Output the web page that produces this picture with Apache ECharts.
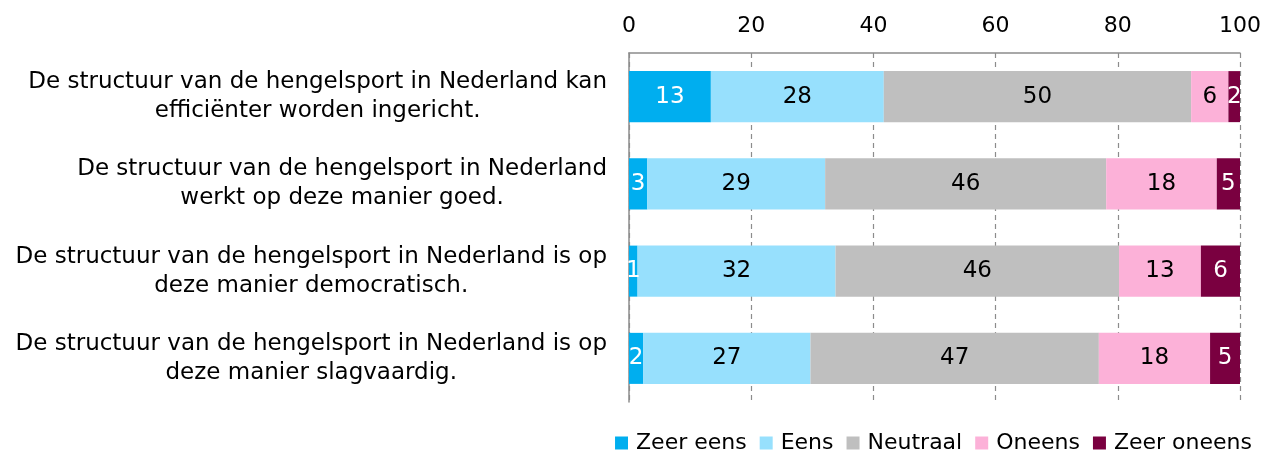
<!DOCTYPE html>
<html>
<head>
<meta charset="utf-8">
<script src="https://cdn.jsdelivr.net/npm/echarts@6/dist/echarts.min.js"></script>
<style>
html,body{margin:0;padding:0;background:#fff;}
#chart{width:1266px;height:452px;}
</style>
</head>
<body>
<div id="chart"></div>
<script>
var categories = [
  "De structuur van de hengelsport in Nederland kan\nefficiënter worden ingericht.",
  "De structuur van de hengelsport in Nederland\nwerkt op deze manier goed.",
  "De structuur van de hengelsport in Nederland is op\ndeze manier democratisch.",
  "De structuur van de hengelsport in Nederland is op\ndeze manier slagvaardig."
];
var seriesNames = ["Zeer eens", "Eens", "Neutraal", "Oneens", "Zeer oneens"];
var zeerEens   = [13.4, 3.0, 1.4, 2.3];
var eens       = [28.3, 29.1, 32.4, 27.4];
var neutraal   = [50.3, 46.0, 46.4, 47.2];
var oneens     = [6.1, 18.1, 13.4, 18.2];
var zeerOneens = [1.9, 4.5, 6.4, 4.9];
var xTicks = [0, 20, 40, 60, 80, 100];

var FONT = "'DejaVu Sans', sans-serif";
var colors = ["#00AEEF", "#97E0FD", "#BFBFBF", "#FCB1D8", "#7A0040"];
var labelColors = ["#fff", "#000", "#000", "#000", "#fff"];
var values = [zeerEens, eens, neutraal, oneens, zeerOneens];

var series = seriesNames.map(function (name, i) {
  return {
    name: name,
    type: "bar",
    stack: "total",
    barWidth: "58.5%",
    data: values[i],
    itemStyle: { color: colors[i] },
    label: {
      show: true,
      position: "inside",
      color: labelColors[i],
      fontFamily: FONT,
      fontSize: 23,
      formatter: function (p) { return Math.round(p.value); }
    }
  };
});

var chart = echarts.init(document.getElementById("chart"), null, { renderer: "canvas" });
chart.setOption({
  animation: false,
  backgroundColor: "#fff",
  color: colors,
  grid: { left: 629, right: 26, top: 53, bottom: 50 },
  legend: {
    data: seriesNames,
    right: 14,
    top: 432,
    padding: 0,
    itemWidth: 13,
    itemHeight: 13,
    itemGap: 13,
    icon: "rect",
    textStyle: { fontFamily: FONT, fontSize: 22, color: "#000", padding: [0, 0, 0, 3] }
  },
  xAxis: {
    type: "value",
    position: "top",
    min: xTicks[0],
    max: xTicks[xTicks.length - 1],
    interval: xTicks[1] - xTicks[0],
    axisLine: { show: true, lineStyle: { color: "#8c8c8c", width: 1.5 } },
    axisTick: { show: false },
    axisLabel: { fontFamily: FONT, fontSize: 22, color: "#000", margin: 16 },
    splitLine: { show: true, lineStyle: { color: "#8c8c8c", type: [5, 4], width: 1.2 } }
  },
  yAxis: {
    type: "category",
    inverse: true,
    data: categories,
    axisLine: { show: true, lineStyle: { color: "#8c8c8c", width: 1.5 } },
    axisTick: { show: false },
    axisLabel: {
      margin: 22,
      fontFamily: FONT,
      fontSize: 23,
      color: "#000",
      formatter: function (v) {
        return v.split("\n").map(function (l) { return "{c|" + l + "}"; }).join("\n");
      },
      rich: {
        c: { align: "center", fontFamily: FONT, fontSize: 23, color: "#000", lineHeight: 29 }
      }
    }
  },
  series: series
});
</script>
</body>
</html>
